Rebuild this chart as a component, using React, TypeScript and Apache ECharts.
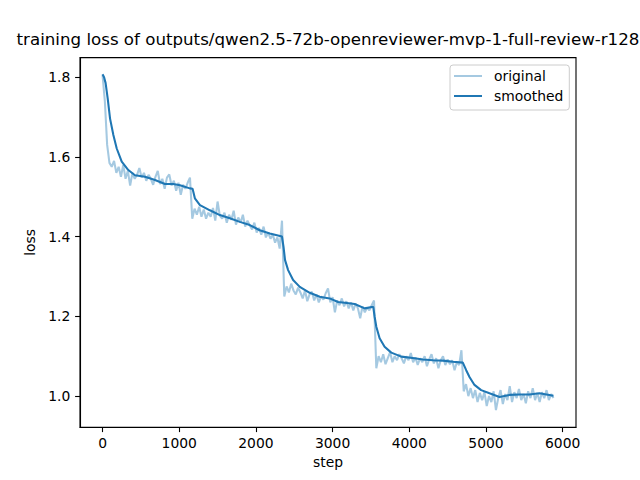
import React, { useEffect, useRef } from "react";
import * as echarts from "echarts";

const titleText = "training loss of outputs/qwen2.5-72b-openreviewer-mvp-1-full-review-r128";
const xTicks = [0, 1000, 2000, 3000, 4000, 5000, 6000];
const yTicks = [1.0, 1.2, 1.4, 1.6, 1.8];
const logEvery = 30;

// original loss, one value per logged step (step = index * logEvery)
const originalLoss = [
  1.805, 1.74, 1.63, 1.585, 1.575, 1.59, 1.56, 1.575, 1.55, 1.58,
  1.545, 1.565, 1.528, 1.56, 1.545, 1.555, 1.572, 1.548, 1.56, 1.54,
  1.555, 1.545, 1.53, 1.55, 1.565, 1.532, 1.545, 1.52, 1.548, 1.556,
  1.528, 1.54, 1.515, 1.535, 1.505, 1.53, 1.52, 1.535, 1.548, 1.445,
  1.47, 1.455, 1.475, 1.45, 1.468, 1.445, 1.46, 1.45, 1.472, 1.44,
  1.488, 1.452, 1.445, 1.46, 1.435, 1.455, 1.442, 1.465, 1.43, 1.448,
  1.435, 1.455, 1.425, 1.44, 1.428, 1.418, 1.435, 1.41, 1.422, 1.405,
  1.425, 1.398, 1.41, 1.395, 1.405, 1.385, 1.398, 1.37, 1.44, 1.25,
  1.275, 1.26, 1.282, 1.265, 1.255, 1.272, 1.26, 1.245, 1.265, 1.238,
  1.255, 1.262, 1.24, 1.255, 1.235, 1.25, 1.242, 1.258, 1.27, 1.235,
  1.248, 1.21, 1.24, 1.228, 1.245, 1.225, 1.238, 1.22, 1.235, 1.215,
  1.232, 1.22, 1.195, 1.225, 1.21, 1.222, 1.215, 1.228, 1.24, 1.07,
  1.1, 1.085, 1.105, 1.08, 1.095, 1.11, 1.085, 1.1, 1.09, 1.105,
  1.095, 1.082, 1.1, 1.09, 1.108, 1.085, 1.097, 1.078, 1.095, 1.085,
  1.1, 1.075, 1.092, 1.105, 1.082, 1.095, 1.07, 1.09, 1.1, 1.078,
  1.092, 1.08, 1.09, 1.065, 1.085, 1.078, 1.115, 1.012, 1.03, 1.0,
  1.02, 0.995, 1.015, 0.985, 1.008, 0.99, 1.01, 0.975, 1.0, 0.985,
  1.012, 0.965, 0.995, 1.015, 0.98, 1.005, 0.99, 1.025, 0.985, 1.01,
  0.995, 1.018, 0.99, 1.005, 0.982, 1.012, 0.995, 1.02, 0.99, 1.008,
  0.985, 1.01, 0.995, 1.015, 0.99, 1.005, 0.995,
];

// smoothed loss as [step, value]
const smoothedLoss = [
  [0, 1.807], [20, 1.8], [40, 1.785], [67, 1.747], [98, 1.696], [141, 1.655],
  [185, 1.621], [250, 1.588], [336, 1.567], [423, 1.554], [553, 1.55],
  [684, 1.542], [814, 1.532], [922, 1.532], [1009, 1.529], [1139, 1.521],
  [1174, 1.52], [1204, 1.496], [1270, 1.479], [1400, 1.466], [1530, 1.454],
  [1660, 1.446], [1790, 1.437], [1920, 1.429], [2050, 1.416], [2181, 1.408],
  [2340, 1.4], [2360, 1.374], [2380, 1.341], [2420, 1.316], [2485, 1.291],
  [2572, 1.274], [2702, 1.259], [2832, 1.249], [2962, 1.245], [3071, 1.236],
  [3158, 1.234], [3288, 1.231], [3418, 1.22], [3530, 1.224], [3548, 1.199],
  [3570, 1.174], [3613, 1.145], [3678, 1.124], [3765, 1.109], [3896, 1.099],
  [4069, 1.095], [4177, 1.092], [4308, 1.09], [4438, 1.089], [4568, 1.086],
  [4698, 1.084], [4742, 1.065], [4785, 1.048], [4850, 1.028], [4937, 1.015],
  [5046, 1.007], [5176, 0.998], [5306, 1.003], [5436, 1.004], [5566, 1.004],
  [5697, 1.007], [5880, 1.001],
];

const FONT = "DejaVu Sans";
const LINE_ICON = "path://M0,0H28V2H0Z";

export default function App() {
  const ref = useRef<HTMLDivElement>(null);
  useEffect(() => {
    if (!ref.current) return;
    const chart = echarts.init(ref.current, null, { renderer: "svg" });
    const originalData = originalLoss.map((v, i) => [i * logEvery, v]);
    chart.setOption({
      animation: false,
      backgroundColor: "#ffffff",
      textStyle: { fontFamily: FONT },
      title: {
        text: titleText,
        left: 328,
        top: 31,
        textAlign: "center",
        padding: 0,
        textStyle: { fontFamily: FONT, fontSize: 16.67, fontWeight: "normal", color: "#000" },
      },
      legend: {
        left: 450,
        top: 65,
        orient: "vertical",
        selectedMode: false,
        itemWidth: 28,
        itemHeight: 14,
        itemGap: 6,
        symbolKeepAspect: true,
        padding: [4, 6, 7, 4],
        borderColor: "#cccccc",
        borderWidth: 1,
        borderRadius: 3,
        backgroundColor: "rgba(255,255,255,0.8)",
        textStyle: { fontFamily: FONT, fontSize: 13.89, color: "#000", padding: [0, 0, 0, 7] },
        data: [
          { name: "original", icon: LINE_ICON },
          { name: "smoothed", icon: LINE_ICON },
        ],
      },
      grid: {
        left: 80,
        right: 64,
        top: 57.6,
        bottom: 52.8,
        show: true,
        borderColor: "#000",
        borderWidth: 1.1,
        backgroundColor: "transparent",
        containLabel: false,
      },
      xAxis: {
        type: "value",
        min: -294,
        max: 6174,
        name: "step",
        nameLocation: "middle",
        nameGap: 27,
        nameTextStyle: { fontFamily: FONT, fontSize: 13.89, color: "#000" },
        axisLine: { show: true, onZero: false, lineStyle: { color: "#000", width: 1.1 } },
        axisTick: { show: true, length: 4.9, lineStyle: { color: "#000", width: 1.1 }, customValues: xTicks },
        axisLabel: {
          margin: 8.5,
          fontFamily: FONT,
          fontSize: 13.89,
          color: "#000",
          customValues: xTicks,
          formatter: (v: number) => String(v),
        },
        splitLine: { show: false },
      },
      yAxis: {
        type: "value",
        min: 0.922,
        max: 1.849,
        name: "loss",
        nameLocation: "middle",
        nameGap: 37,
        nameTextStyle: { fontFamily: FONT, fontSize: 13.89, color: "#000" },
        axisLine: { show: true, onZero: false, lineStyle: { color: "#000", width: 1.1 } },
        axisTick: { show: true, length: 4.9, lineStyle: { color: "#000", width: 1.1 }, customValues: yTicks },
        axisLabel: {
          margin: 9.7,
          fontFamily: FONT,
          fontSize: 13.89,
          color: "#000",
          customValues: yTicks,
          formatter: (v: number) => v.toFixed(1),
        },
        splitLine: { show: false },
      },
      series: [
        {
          name: "original",
          type: "line",
          data: originalData,
          symbol: "none",
          showSymbol: false,
          lineStyle: { color: "rgba(31,119,180,0.4)", width: 2.08 },
          itemStyle: { color: "rgba(31,119,180,0.4)" },
          z: 2,
        },
        {
          name: "smoothed",
          type: "line",
          data: smoothedLoss,
          symbol: "none",
          showSymbol: false,
          lineStyle: { color: "#1f77b4", width: 2.08 },
          itemStyle: { color: "#1f77b4" },
          z: 3,
        },
      ],
    });
    return () => chart.dispose();
  }, []);
  return (
    <div
      ref={ref}
      style={{ position: "fixed", left: 0, top: 0, width: 640, height: 480 }}
    />
  );
}
